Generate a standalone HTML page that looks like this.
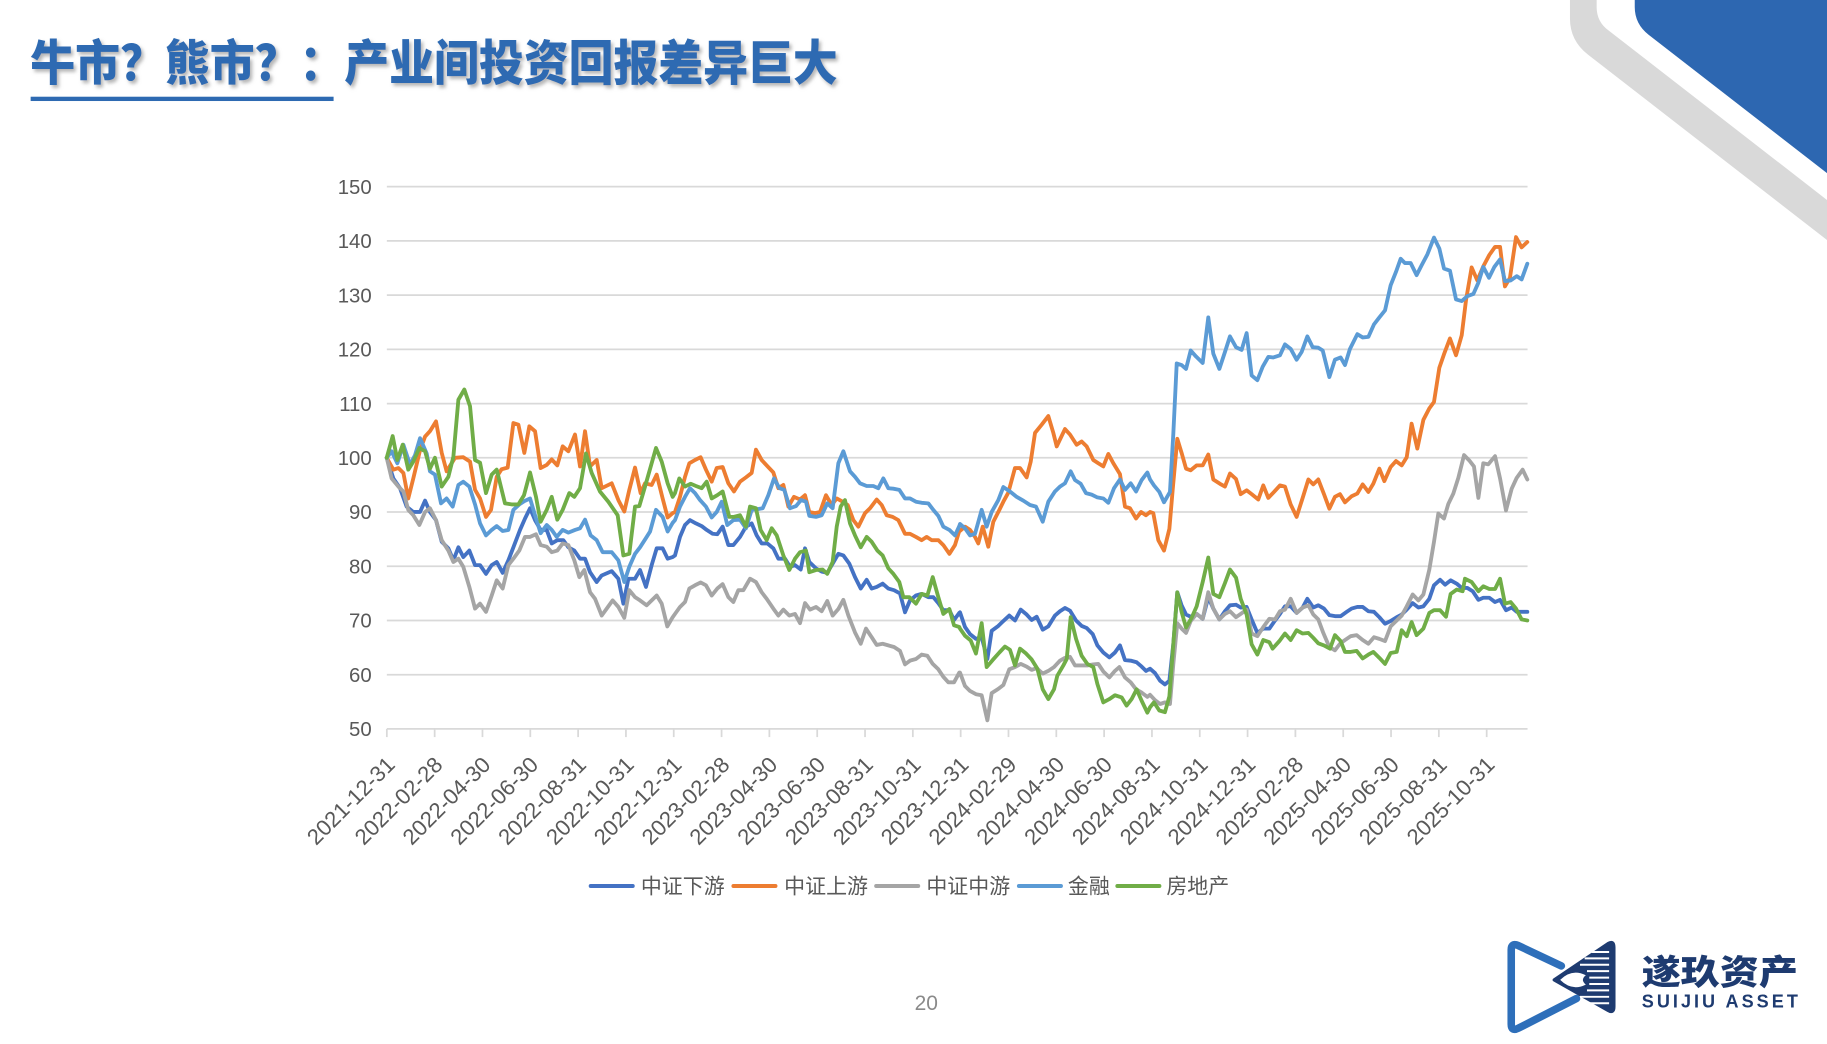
<!DOCTYPE html>
<html><head><meta charset="utf-8"><style>
html,body{margin:0;padding:0;background:#fff;}
svg{display:block;}
</style></head><body>
<svg id="s" xmlns="http://www.w3.org/2000/svg" width="1827" height="1044" viewBox="0 0 1568 896">
<defs>
<filter id="sh" x="-5%" y="-20%" width="110%" height="150%">
<feDropShadow dx="2" dy="2.5" stdDeviation="1.6" flood-color="#7a7a7a" flood-opacity="0.55"/>
</filter>
</defs>
<rect width="1568" height="896" fill="#fff"/>
<!-- top right decoration -->
<path d="M1347.4,0 L1370.3,0 L1370.3,6 Q1370.3,19 1381,26.5 L1568,171.6 L1568,206 L1363,47 Q1347.4,35 1347.4,16 Z" fill="#d9d9d9"/>
<path d="M1403,0 L1568,0 L1568,148.6 L1415,29.9 Q1403,20.6 1403,6 Z" fill="#2d67b1"/>
<!-- title -->
<g filter="url(#sh)">
<text transform="translate(26,68.5) scale(1,1.08)" x="0" y="0" font-family="'Liberation Sans','Noto Sans CJK SC',sans-serif" font-weight="900" font-size="38.5" fill="#2e6ab2" textLength="693" lengthAdjust="spacingAndGlyphs">牛市？熊市？：产业间投资回报差异巨大</text>
</g>
<rect x="26.3" y="83" width="260" height="3.7" fill="#2e6ab2"/>
<g id="grid" stroke="#d9d9d9" stroke-width="1.5"></g>
<g id="ylab" font-family="'Liberation Sans',sans-serif" font-size="17.5" fill="#595959" text-anchor="end"></g>
<g id="xlab" font-family="'Liberation Sans',sans-serif" font-size="19" fill="#595959" text-anchor="end"></g>
<g id="lines" fill="none" stroke-width="3.3" stroke-linejoin="round" stroke-linecap="round"></g>
<!-- legend -->
<g font-family="'Liberation Sans','Noto Sans CJK SC',sans-serif" font-size="18" fill="#595959">
<line x1="507" y1="760.4" x2="543" y2="760.4" stroke="#4472c4" stroke-width="3.5" stroke-linecap="round"/>
<text x="550" y="767">中证下游</text>
<line x1="629.5" y1="760.4" x2="665.5" y2="760.4" stroke="#ed7d31" stroke-width="3.5" stroke-linecap="round"/>
<text x="673" y="767">中证上游</text>
<line x1="752" y1="760.4" x2="788" y2="760.4" stroke="#a5a5a5" stroke-width="3.5" stroke-linecap="round"/>
<text x="795" y="767">中证中游</text>
<line x1="874.5" y1="760.4" x2="910.5" y2="760.4" stroke="#5b9bd5" stroke-width="3.5" stroke-linecap="round"/>
<text x="916.5" y="767">金融</text>
<line x1="959" y1="760.4" x2="995" y2="760.4" stroke="#70ad47" stroke-width="3.5" stroke-linecap="round"/>
<text x="1001" y="767">房地产</text>
</g>
<!-- page number -->
<text x="795" y="867" text-anchor="middle" font-family="'Liberation Sans',sans-serif" font-size="18" fill="#8a8a8a">20</text>
<!-- logo -->
<path d="M1340,829 L1303,811.5 Q1297,809 1297,815 L1297,879 Q1297,885.5 1303,882.5 L1353,857" fill="none" stroke="#2e6fba" stroke-width="6.5" stroke-linecap="round" stroke-linejoin="round"/>
<path d="M1334,841 L1380,810 Q1385,807 1385,813 L1385,864 Q1385,870 1380,867 Z" fill="#1e3b70" stroke="#1e3b70" stroke-width="3" stroke-linejoin="round"/>
<g stroke="#fff" stroke-width="1.7">
<line x1="1366" y1="817" x2="1381" y2="817"/>
<line x1="1360" y1="822.5" x2="1381" y2="822.5"/>
<line x1="1356" y1="828" x2="1381" y2="828"/>
<line x1="1362" y1="833.5" x2="1381" y2="833.5"/>
<line x1="1364" y1="839" x2="1381" y2="839"/>
<line x1="1364" y1="844.5" x2="1381" y2="844.5"/>
<line x1="1362" y1="850" x2="1381" y2="850"/>
<line x1="1356" y1="855.5" x2="1381" y2="855.5"/>
<line x1="1362" y1="861" x2="1381" y2="861"/>
</g>
<path d="M1339,841 Q1349,831 1361,837 Q1356,841 1361,845 Q1349,851 1339,841 Z" fill="#fff"/>
<text x="1409" y="845" font-family="'Liberation Sans','Noto Sans CJK SC',sans-serif" font-weight="900" font-size="30" fill="#1e3b70" textLength="134" lengthAdjust="spacingAndGlyphs">遂玖资产</text>
<text x="1409" y="864.5" font-family="'Liberation Sans',sans-serif" font-weight="bold" font-size="15.5" fill="#1e3b70" textLength="134" lengthAdjust="spacing">SUIJIU ASSET</text>
</svg>
<script>
(function(){
var NS='http://www.w3.org/2000/svg';
function Y(v){return 160.2+(150-v)*4.654;}
function el(t,a,p,txt){var e=document.createElementNS(NS,t);for(var k in a)e.setAttribute(k,a[k]);if(txt!=null)e.textContent=txt;p.appendChild(e);return e;}
var grid=document.getElementById('grid'),yl=document.getElementById('ylab'),xl=document.getElementById('xlab'),ln=document.getElementById('lines');
for(var v=50;v<=150;v+=10){var y=Y(v);el('line',{x1:332,y1:y,x2:1311,y2:y},grid);el('text',{x:319,y:(y+6.2).toFixed(1)},yl,String(v));}
var dates=['2021-12-31','2022-02-28','2022-04-30','2022-06-30','2022-08-31','2022-10-31','2022-12-31','2023-02-28','2023-04-30','2023-06-30','2023-08-31','2023-10-31','2023-12-31','2024-02-29','2024-04-30','2024-06-30','2024-08-31','2024-10-31','2024-12-31','2025-02-28','2025-04-30','2025-06-30','2025-08-31','2025-10-31'];
var y0=Y(50);
for(var k=0;k<dates.length;k++){var tx=332+k*41.04;el('line',{x1:tx,y1:y0,x2:tx,y2:y0+7},grid);
var ax=tx+8,ay=657.5;el('text',{x:ax.toFixed(1),y:ay,transform:'rotate(-45 '+ax.toFixed(1)+' '+ay+')'},xl,dates[k]);}
var K=0.28608,X0={a:326.13,b:575.02,c:823.91,d:986.97};
var S=[
{c:'#4472c4',d:{
a:[[20,100],[40,96.2],[60,94.4],[80,91],[100,90],[120,90],[135,92.1],[150,90],[168,88.5],[185,84.5],[205,83.3],[220,81.1],[235,83.5],[250,81.7],[268,82.9],[285,80.2],[300,80.2],[318,78.6],[335,80.2],[350,80.8],[368,78.8],[385,81.1],[400,83.5],[420,86.7],[435,88.8],[450,90.7],[465,88.5],[482,86.7],[500,86.7],[515,84.2],[532,84.8],[550,84.8],[565,83.5],[583,82.9],[600,81.4],[615,81.4],[630,78.9],[650,77.1],[665,78.3],[695,79.1],[715,77.7],[730,73.1],[745,77.7],[765,77.7],[780,79.3],[798,76.2],[815,80.2],[830,83.3],[848,83.3],[863,81.4],[878,81.7]],
b:[[15,82],[30,85.4],[45,87.6],[60,88.5],[78,87.9],[95,87.4],[110,86.7],[128,86],[142,85.9],[158,87.3],[175,83.9],[190,83.9],[210,85.4],[228,87.3],[245,87.9],[260,85.7],[275,84.2],[292,84.2],[310,83.3],[325,81.4],[345,81.4],[360,79.9],[375,80.2],[392,79.4],[405,83.3],[418,80.8],[438,79.6],[455,79],[472,78.8],[488,80.5],[505,82.3],[520,82],[538,80.5],[555,78],[572,75.9],[590,77.5],[605,75.9],[620,76.2],[638,76.8],[655,75.9],[672,75.6],[690,75],[705,71.5],[720,73.7],[738,74.6],[755,74.9],[775,74.3],[790,74.3],[805,73.2],[820,71.9],[838,71.9],[852,70.1],[868,71.4]],
c:[[0,71.5],[15,68.8],[30,67.5],[48,66.6],[65,66.9],[82,62.9],[95,68.1],[115,69],[130,69.9],[148,70.9],[165,70],[182,72],[200,71.1],[215,70.1],[230,70.7],[248,68.3],[265,68.9],[285,70.9],[300,71.7],[315,72.3],[330,71.8],[348,70],[365,69],[380,68.6],[398,67.5],[412,65.4],[430,64.1],[448,63.2],[465,64.1],[480,65.4],[495,62.7],[512,62.6],[530,62.3],[545,61.5],[558,60.7]],
d:[[0,61.1],[15,60.3],[30,58.9],[45,58.2],[58,58.9],[70,65.7],[82,75.2],[95,72.8],[108,71.1],[122,70.7],[140,71.2],[158,70.3],[175,74.3],[190,72.2],[208,70.2],[225,71.7],[240,72.8],[258,72.9],[272,72.4],[290,72.5],[305,70.2],[322,67.7],[340,68.5],[358,68.5],[375,70],[390,71.2],[405,72.6],[422,72.6],[440,71.4],[458,72.4],[472,74],[490,72.4],[505,72.8],[522,72.2],[538,71],[555,70.8],[572,70.8],[590,71.6],[605,72.2],[622,72.5],[638,72.5],[655,71.7],[672,71.6],[688,70.6],[705,69.4],[722,69.9],[740,70.6],[755,71.1],[770,72],[788,73.2],[805,72.4],[820,72.6],[838,74],[852,76.5],[870,77.5],[885,76.6],[902,77.4],[920,76.8],[935,76],[952,76],[968,75.4],[985,73.8],[1000,74.2],[1018,74.2],[1035,73.4],[1050,73.8],[1068,71.9],[1085,72.4],[1100,71.6],[1118,71.6],[1132,71.6]]}},
{c:'#ed7d31',d:{
a:[[20,100],[40,97.8],[55,98.1],[70,97.2],[85,92.5],[100,96.2],[120,101.4],[135,103.9],[150,104.9],[168,106.7],[185,100.9],[200,97.5],[225,100],[250,100.1],[270,99.3],[285,94.1],[300,92.5],[318,89.1],[333,90.4],[350,96.5],[365,97.9],[383,98.2],[400,106.4],[415,106.1],[433,100.9],[448,105.8],[465,104.9],[482,98.1],[500,98.7],[515,99.7],[532,98.6],[548,102.1],[565,101.2],[585,104.3],[600,98.4],[615,104.9],[630,98.4],[650,99.6],[665,94.4],[695,95.3],[715,92.2],[733,90.1],[748,94.1],[765,98.2],[782,93.5],[795,95.3],[815,95],[830,96.9],[848,92.5],[863,89],[878,89.8]],
b:[[15,90],[30,92.8],[45,96.5],[58,99],[75,99.6],[92,100.1],[108,97.8],[125,95.6],[140,98.1],[158,98.3],[175,95.3],[192,93.8],[210,95.6],[228,96.4],[245,97.2],[258,101.5],[275,99.6],[293,98.4],[310,97.3],[325,94.4],[340,95],[355,91],[372,92.8],[390,92.3],[405,93.1],[418,90],[435,89.8],[450,90],[468,93.1],[485,91.3],[500,92.5],[518,91.9],[533,91.3],[550,88.5],[565,87.3],[585,89.8],[600,90.7],[620,92.3],[635,91.3],[650,89.4],[668,89.1],[685,88.5],[705,86],[720,86],[738,85.4],[755,84.8],[770,85.4],[785,84.8],[805,84.8],[820,83.9],[838,82.3],[855,83.9],[868,86.5]],
c:[[0,86.5],[15,87.3],[30,86.7],[45,85.4],[55,84.2],[68,87.3],[85,83.6],[100,88.2],[118,90.4],[130,91.9],[145,93.6],[165,98.1],[180,98.1],[200,96.4],[212,99.3],[225,104.6],[245,106.1],[265,107.7],[280,104.6],[290,102.1],[315,105.3],[330,104.3],[350,102.4],[365,103],[380,102.1],[400,99.6],[415,99],[430,98.4],[445,100.7],[460,99],[480,97],[495,91],[510,90.7],[528,88.8],[543,90],[558,89.4]],
d:[[0,90],[10,89.8],[25,84.8],[42,82.9],[58,86.9],[68,94],[82,103.5],[95,100.9],[108,98],[122,97.7],[140,98.6],[158,98.6],[175,100.6],[190,96],[210,95.2],[225,94.7],[240,97.1],[258,96.1],[272,93.3],[290,94],[305,93.3],[325,92.3],[340,94.9],[355,92.6],[372,93.7],[390,94.9],[405,94.7],[422,91.4],[440,89.1],[458,92.6],[475,96],[490,95.1],[505,96],[522,93.3],[538,90.6],[555,92.8],[570,93.3],[585,91.8],[605,92.9],[622,93.4],[638,95.1],[655,93.7],[670,95.2],[688,98],[703,95.7],[722,98.3],[738,99.4],[755,98.6],[770,100.1],[785,106.3],[802,101.7],[820,107],[838,109.1],[852,110.3],[868,116.6],[882,119.1],[900,122],[918,118.9],[935,122.6],[948,129.1],[965,135.1],[982,132.7],[1000,135.3],[1018,137.4],[1035,138.9],[1050,138.9],[1065,131.6],[1080,133.2],[1098,140.7],[1115,138.8],[1132,139.8]]}},
{c:'#a5a5a5',d:{
a:[[20,100],[35,96.2],[55,94.7],[70,93.8],[85,90.4],[100,89.4],[118,87.6],[135,90],[150,90.7],[168,88.5],[185,84.8],[205,82.9],[220,80.8],[235,81.4],[250,79.9],[268,76.2],[285,72.2],[300,73.1],[318,71.6],[335,74.6],[350,77.4],[368,75.9],[385,80.2],[400,81.4],[418,82.9],[435,85.4],[450,85.4],[468,85.9],[482,83.9],[500,83.6],[515,82.6],[532,82.9],[548,84.2],[565,83.9],[583,81.1],[598,78],[613,79.3],[630,75.2],[645,74],[665,70.9],[680,72.2],[698,73.7],[715,72.5],[733,70.5],[748,75.6],[765,74.3],[780,73.7],[800,72.8],[815,73.7],[830,74.6],[845,73.1],[862,68.9],[878,70.6]],
b:[[15,71.2],[30,72.5],[45,73.4],[58,75.9],[75,76.5],[92,77],[108,76.5],[125,74.6],[142,75.9],[158,76.7],[175,74.3],[190,73.4],[205,75.6],[220,75.6],[240,77.7],[258,77.1],[275,75.2],[290,74],[310,72.2],[325,70.9],[340,72],[358,70.9],[375,71.2],[390,69.5],[405,73.2],[420,72],[438,72.5],[455,71.7],[472,73.6],[488,70.9],[505,72.1],[520,73.8],[535,70.9],[555,67.8],[572,65.7],[588,68.5],[605,66.9],[620,65.5],[638,65.7],[655,65.4],[672,65.1],[690,64.4],[705,61.9],[720,62.6],[738,62.9],[755,63.7],[772,63.5],[788,62],[805,61],[820,59.6],[835,58.6],[852,58.6],[868,60.4]],
c:[[0,60.4],[15,57.9],[30,57],[48,56.4],[65,56.2],[82,51.6],[95,56.6],[115,57.4],[130,58.1],[148,61],[165,61.4],[182,62],[200,61.5],[215,60.9],[230,61.2],[248,60.2],[265,60.7],[282,61.4],[300,62.6],[315,63.1],[330,63.3],[345,61.7],[365,61.7],[382,61.7],[400,61.9],[415,62],[430,60.6],[448,59.5],[465,60.7],[478,61.4],[495,59.5],[512,58.6],[528,57.3],[545,56.7],[562,55.9]],
d:[[0,56.3],[15,55.3],[30,54.6],[45,54.9],[60,54.6],[70,62],[82,69.5],[95,68.5],[108,67.7],[122,69.9],[140,71.2],[158,70.3],[175,75.2],[190,72.2],[208,70.2],[225,71.2],[240,71.7],[258,70.6],[272,71.2],[290,72],[305,67.6],[322,67.1],[340,68.8],[358,70.3],[375,70.2],[390,71.7],[405,72],[422,74],[440,71.4],[458,72.4],[475,72.8],[490,71.1],[505,70.2],[520,67.7],[538,65.1],[555,64.5],[570,65.7],[585,66.4],[602,67.1],[620,67.3],[638,66.4],[655,65.7],[672,66.9],[688,66.6],[705,66.2],[722,68.9],[740,70],[755,70.9],[770,72.6],[788,74.8],[805,73.7],[820,74.8],[838,79.4],[852,84.5],[865,89.7],[882,88.8],[895,91.5],[910,93.4],[925,96.3],[942,100.5],[958,99.5],[972,98.4],[985,92.6],[1000,99],[1015,98.8],[1035,100.3],[1050,96.2],[1068,90.3],[1085,94.3],[1100,96.3],[1118,97.8],[1132,96]]}},
{c:'#5b9bd5',d:{
a:[[20,100],[35,101.2],[52,99],[70,102.4],[90,98.7],[105,100.5],[120,103.6],[140,100.8],[150,97.5],[165,96.9],[183,91.6],[200,92.5],[218,91],[235,95],[250,95.6],[268,94.7],[285,91.4],[300,87.9],[318,85.7],[335,86.7],[350,87.4],[368,86.5],[385,86.7],[400,90.4],[418,91.4],[433,92],[450,92.5],[465,89.4],[482,86.1],[500,87.6],[515,86.7],[530,85.4],[548,86.7],[565,86.2],[585,86.7],[600,87],[615,88.6],[632,85.7],[650,84.8],[668,82.6],[695,82.6],[715,81.1],[733,77.1],[748,79.9],[765,82.3],[780,83.5],[800,85.4],[810,86.4],[828,90.4],[848,89.1],[863,86.4],[878,88]],
b:[[15,88.5],[30,91],[45,92.8],[60,94.4],[75,93.5],[90,92.2],[108,91],[125,89],[140,90],[155,91.9],[172,87.6],[190,88.5],[210,88.6],[228,87],[245,90.4],[260,90.5],[278,90.7],[295,93.1],[312,96.2],[328,94.4],[343,94.1],[360,90.7],[378,91.1],[393,92.2],[408,91.9],[418,89.3],[438,89.1],[455,89.4],[472,91.6],[488,90.7],[505,99],[520,101.2],[540,97.5],[555,96.5],[570,95.3],[590,94.8],[610,94.8],[625,94.4],[640,96.2],[655,94.4],[670,94.3],[688,94.1],[705,92.5],[720,92.5],[738,91.9],[755,91.7],[775,91.6],[790,90.4],[805,89.3],[820,87.3],[838,86.7],[855,85.7],[868,87.4]],
c:[[0,87.8],[15,87],[30,85.7],[45,86],[65,90.4],[80,87.3],[95,90],[115,92.2],[130,94.6],[150,93.8],[170,92.8],[190,92.1],[210,91.3],[228,91],[248,88.2],[265,91.9],[285,93.8],[300,94.7],[315,95.3],[332,97.5],[345,95.9],[362,95.2],[378,93.5],[395,93.2],[412,92.7],[430,92.5],[445,91.7],[462,94.4],[480,96],[495,94.1],[512,95.3],[528,93.8],[545,95.9],[562,97.3]],
d:[[0,96],[12,94.9],[28,93.7],[42,91.8],[60,93.7],[70,104.5],[80,117.4],[95,117.1],[108,116.4],[122,119.8],[138,118.7],[158,117.5],[175,125.9],[190,119.2],[208,116.4],[225,119.5],[240,122.4],[258,120.4],[275,119.9],[290,123],[305,115.2],[322,114.3],[338,116.8],[355,118.6],[370,118.5],[390,118.9],[405,120.9],[422,120.1],[440,118.1],[455,119.5],[472,122.4],[488,120.4],[505,120.3],[518,119.8],[538,114.9],[555,118.1],[572,118.5],[585,117.1],[600,120.1],[622,122.8],[638,122.2],[655,122.3],[672,124.6],[688,125.9],[705,127.2],[722,131.8],[738,134.3],[752,136.7],[765,135.9],[782,135.9],[800,133.7],[815,135.5],[832,137.5],[852,140.6],[868,138.6],[882,134.9],[900,134.5],[918,129.2],[935,128.9],[952,129.8],[970,130.2],[985,132.3],[1000,135.2],[1017,133.2],[1033,135.2],[1050,136.6],[1065,132.6],[1082,132.7],[1100,133.5],[1115,132.9],[1132,135.8]]}},
{c:'#70ad47',d:{
a:[[20,100],[38,104],[52,99.6],[68,102.4],[85,97.8],[100,99.3],[118,101.8],[135,101.2],[150,98],[165,100],[185,94.7],[205,96.5],[220,100.2],[235,110.7],[253,112.6],[270,109.5],[285,99.6],[300,99.1],[318,93.5],[335,96.9],[350,97.8],[375,91.6],[395,91.4],[415,91.4],[432,93.1],[450,97.3],[468,92.8],[482,88.2],[500,90.4],[515,92.8],[532,88.6],[548,90.4],[568,93.5],[583,92.8],[600,94.4],[618,100.8],[635,97.2],[660,93.8],[685,91.9],[713,89.4],[730,82],[748,82.3],[765,91],[778,91.1],[795,94.7],[828,101.8],[845,99.3],[863,95.3],[878,92.8]],
b:[[15,93.5],[28,96.2],[45,94.7],[62,95.2],[78,94.8],[95,94.4],[110,95.6],[125,92.5],[142,93.1],[158,93.8],[178,89.1],[192,89.1],[210,89.4],[228,87.3],[240,91],[258,90.7],[272,86.7],[290,84.8],[305,87],[320,85.7],[340,82],[358,79.3],[375,81.4],[390,82.6],[408,82.9],[418,78.9],[438,79.3],[458,79.4],[472,78.6],[488,80.8],[500,87.3],[512,91],[525,92.2],[540,87.9],[555,85.7],[572,83.5],[590,85.4],[605,84.5],[622,82.9],[638,82],[655,79.6],[670,78.6],[688,77.1],[700,74.3],[718,74.3],[738,73.1],[755,74.9],[772,74.6],[788,78],[805,74.3],[820,71.2],[838,72.1],[852,69.1],[868,68.8]],
c:[[0,68.5],[15,67.2],[32,66.3],[48,63.9],[65,69.5],[80,61.4],[98,62.7],[118,64.1],[135,65.2],[150,64.6],[165,61.7],[180,64.8],[198,63.9],[215,62.8],[232,61.1],[248,57.3],[265,55.5],[282,57.3],[292,59.8],[310,61.7],[320,62.9],[332,70.6],[348,66.6],[365,63.5],[382,62],[400,61.4],[412,58.3],[430,54.9],[448,55.5],[465,56.2],[485,55.8],[500,54.3],[515,55.5],[530,57.3],[545,55.2],[562,53]],
d:[[0,54],[12,54.9],[28,53.4],[45,53.1],[58,56],[70,65.7],[82,75.2],[95,71.6],[108,68.7],[125,70.5],[140,72.6],[158,77.1],[175,81.6],[190,74.9],[208,74.3],[225,76.9],[240,79.4],[258,77.9],[272,74],[290,71.1],[305,65.6],[322,63.7],[340,66.4],[358,66],[368,64.8],[388,66.2],[405,67.6],[422,66.4],[440,68.2],[458,67.6],[475,67.7],[490,66.8],[505,65.8],[522,65.4],[540,64.8],[555,67.3],[572,66.2],[585,64.2],[602,64.2],[620,64.4],[638,63],[655,63.7],[670,64.2],[688,63.1],[705,62],[722,64],[740,64.2],[755,68.2],[770,67.1],[785,69.7],[800,67.3],[820,68.5],[838,71.4],[852,71.9],[870,71.9],[888,70.7],[902,74.9],[920,75.7],[938,75.4],[945,77.7],[965,77.1],[985,75.4],[1000,76.3],[1018,75.8],[1035,75.8],[1050,77.7],[1065,73.1],[1082,73.4],[1098,72.2],[1115,70.2],[1132,70]]}}
];
S.forEach(function(s){
var pts=[];['a','b','c','d'].forEach(function(z){s.d[z].forEach(function(p){pts.push([X0[z]+p[0]*K,Y(p[1])]);});});
var d='M'+pts.map(function(p){return p[0].toFixed(1)+','+p[1].toFixed(1);}).join(' L');
el('path',{d:d,stroke:s.c},ln);
});
})();
</script>
</body></html>
